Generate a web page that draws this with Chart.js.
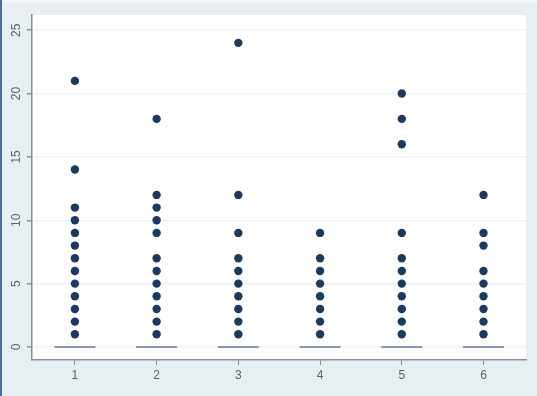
<!DOCTYPE html>
<html>
<head>
<meta charset="utf-8">
<script src="https://cdn.jsdelivr.net/npm/chart.js@4/dist/chart.umd.min.js"></script>
<style>
  html, body { margin: 0; padding: 0; background: #e8eff2; }
  #wrap { width: 537px; height: 396px; position: relative; }
</style>
</head>
<body>
<div id="wrap"><canvas id="c" width="537" height="396"></canvas></div>
<script>
// Groups on the horizontal axis
const categories = [1, 2, 3, 4, 5, 6];
// Observed values (outside points) per group
const group1 = [1, 2, 3, 4, 5, 6, 7, 8, 9, 10, 11, 14, 21];
const group2 = [1, 2, 3, 4, 5, 6, 7, 9, 10, 11, 12, 18];
const group3 = [1, 2, 3, 4, 5, 6, 7, 9, 12, 24];
const group4 = [1, 2, 3, 4, 5, 6, 7, 9];
const group5 = [1, 2, 3, 4, 5, 6, 7, 9, 16, 18, 20];
const group6 = [1, 2, 3, 4, 5, 6, 8, 9, 12];
// Box (collapsed) median per group
const medians = [0, 0, 0, 0, 0, 0];
// Tick labels
const yTicks = [0, 5, 10, 15, 20, 25];
const xTicks = [1, 2, 3, 4, 5, 6];

const groups = [group1, group2, group3, group4, group5, group6];
const pointData = [];
groups.forEach((vals, i) => vals.forEach(v => pointData.push({ x: categories[i], y: v })));
const medianData = categories.map((c, i) => ({ x: c, y: medians[i] }));

const NAVY = '#1c3a5e';
const AXIS = '#8a8f94';
const LABEL = '#5e6266';

const backdrop = {
  id: 'backdrop',
  beforeDraw(chart) {
    const { ctx, chartArea: a, width, height } = chart;
    ctx.save();
    ctx.fillStyle = '#e8eff2';
    ctx.fillRect(0, 0, width, height);
    ctx.fillStyle = '#f3f6f8';
    ctx.fillRect(0, 0, width, 3);
    ctx.fillStyle = '#4d6e9c';
    ctx.fillRect(0, 0, 2, height);
    ctx.fillStyle = '#ffffff';
    ctx.fillRect(a.left, a.top, a.right - a.left, a.bottom - a.top);
    ctx.restore();
  },
  afterDraw(chart) {
    // vertical y tick labels
    const { ctx } = chart;
    const ys = chart.scales.y;
    ctx.save();
    ctx.fillStyle = LABEL;
    ctx.font = '12px "Liberation Sans", Arial, sans-serif';
    ctx.textAlign = 'center';
    ctx.textBaseline = 'middle';
    yTicks.forEach(t => {
      const py = ys.getPixelForValue(t);
      ctx.save();
      ctx.translate(17, py);
      ctx.rotate(-Math.PI / 2);
      ctx.fillText(String(t), 0, 0);
      ctx.restore();
    });
    ctx.restore();
  }
};

new Chart(document.getElementById('c'), {
  type: 'scatter',
  data: {
    datasets: [
      {
        data: medianData,
        pointStyle: 'line',
        radius: 20.5,
        hoverRadius: 20.5,
        borderColor: '#8797ac',
        backgroundColor: '#8797ac',
        borderWidth: 2,
        order: 2
      },
      {
        data: pointData,
        pointStyle: 'circle',
        radius: 4.2,
        hoverRadius: 4.2,
        backgroundColor: NAVY,
        borderColor: NAVY,
        borderWidth: 0,
        order: 1
      }
    ]
  },
  plugins: [backdrop],
  options: {
    responsive: false,
    animation: false,
    layout: { autoPadding: false, padding: { left: 0, right: 11, top: 15, bottom: 0 } },
    plugins: { legend: { display: false }, tooltip: { enabled: false } },
    scales: {
      x: {
        type: 'linear',
        min: 0.475,
        max: 6.52,
        afterFit(s) { s.height = 36; },
        afterBuildTicks(s) { s.ticks = xTicks.map(v => ({ value: v })); },
        border: { color: AXIS, width: 1.5 },
        grid: { drawOnChartArea: false, drawTicks: true, tickLength: 5, tickColor: AXIS },
        ticks: {
          color: LABEL,
          font: { family: '"Liberation Sans", Arial, sans-serif', size: 12 },
          padding: 3,
          maxRotation: 0
        }
      },
      y: {
        type: 'linear',
        min: -1.03,
        max: 26.2,
        afterFit(s) { s.width = 32; },
        afterBuildTicks(s) { s.ticks = yTicks.map(v => ({ value: v })); },
        border: { color: AXIS, width: 1.5 },
        grid: { color: '#eef2f4', lineWidth: 1.5, drawTicks: true, tickLength: 5, tickColor: AXIS },
        ticks: { display: false }
      }
    }
  }
});
</script>
</body>
</html>
